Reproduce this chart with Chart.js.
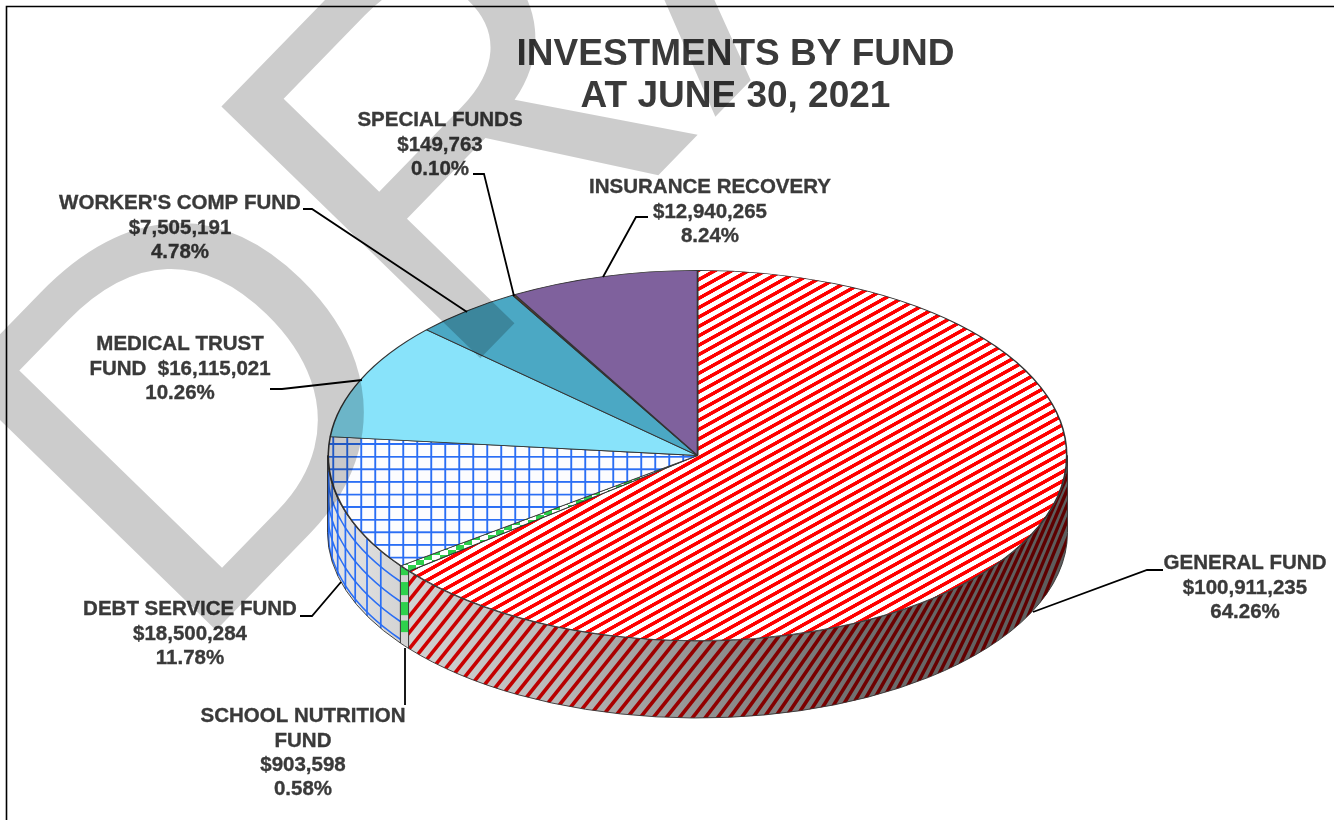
<!DOCTYPE html>
<html><head><meta charset="utf-8">
<style>html,body{margin:0;padding:0;background:#fff}canvas{display:block}</style>
<script src="https://cdn.jsdelivr.net/npm/chart.js@4"></script>
</head><body><canvas id="c" width="1334" height="820"></canvas>
<script>
// ---------- data ----------
const categories = ["GENERAL FUND","SCHOOL NUTRITION FUND","DEBT SERVICE FUND","MEDICAL TRUST FUND","WORKER'S COMP FUND","SPECIAL FUNDS","INSURANCE RECOVERY"];
const values = [100911235,903598,18500284,16115021,7505191,149763,12940265];
const percents = ["64.26%","0.58%","11.78%","10.26%","4.78%","0.10%","8.24%"];
const titleLines = ["INVESTMENTS BY FUND","AT JUNE 30, 2021"];
const watermark = "DRAFT";
const money = v => "$" + v.toLocaleString("en-US");
const labelLines = [
  ["GENERAL FUND", money(values[0]), percents[0]],
  ["SCHOOL NUTRITION","FUND", money(values[1]), percents[1]],
  ["DEBT SERVICE FUND", money(values[2]), percents[2]],
  ["MEDICAL TRUST","FUND  "+money(values[3]), percents[3]],
  ["WORKER'S COMP FUND", money(values[4]), percents[4]],
  ["SPECIAL FUNDS", money(values[5]), percents[5]],
  ["INSURANCE RECOVERY", money(values[6]), percents[6]]
];
// ---------- layout and style ----------
const labelPos = [[1245,563.5],[303,716.5],[190,609.5],[180,344.5],[180,203.5],[440,120.5],[710,187.5]];
const leaders = [
  [[1163,570],[1147,570],[1033,612]],
  [[405,705],[405,648]],
  [[300,616],[312,616],[341,582]],
  [[270,389],[282,389],[362,380]],
  [[303,209],[312,209],[467,312]],
  [[473,174],[484,174],[514,296]],
  [[648,217],[636,217],[603,277]]
];
const face = {cx:697.5, cy:455.5, rx:370, ry:185.5, depth:77};
const FONT = '"Liberation Sans", Arial, sans-serif';

function tile(w,h,draw){const t=document.createElement('canvas');t.width=w;t.height=h;draw(t.getContext('2d'));return t;}
const c=document.getElementById('c'), cx2d=c.getContext('2d');
const redPat=cx2d.createPattern(tile(4,16,g=>{g.fillStyle='#fff';g.fillRect(0,0,4,16);g.fillStyle='#ff0000';g.fillRect(0,0,4,7);}),'repeat');
const gridPat=cx2d.createPattern(tile(28,25,g=>{g.fillStyle='#fcfcfe';g.fillRect(0,0,28,25);g.fillStyle='#2a6ef5';g.fillRect(0,0,28,3.6);g.fillRect(0,0,3.6,25);}),'repeat');
const checkPat=cx2d.createPattern(tile(16,10,g=>{g.fillStyle='#fff';g.fillRect(0,0,16,10);g.fillStyle='#2ed14c';g.fillRect(0,0,8,5);g.fillRect(8,5,8,5);}),'repeat');
const colors=[redPat,checkPat,gridPat,'#88e3fa','#4ba8c4','#8a4b14','#7f619d'];

const pie3d={
  id:'pie3d',
  beforeDraw(chart){const g=chart.ctx;g.save();g.fillStyle='#fff';g.fillRect(0,0,chart.width,chart.height);g.restore();},
  afterLayout(chart){
    const a=chart.chartArea, ux=(a.left+a.right)/2, uy=(a.top+a.bottom)/2;
    const r=Math.min(a.right-a.left,a.bottom-a.top)/2;
    const sx=face.rx/r, sy=face.ry/r;
    chart.$face={ux,uy,sx,sy};
    const ctm=new DOMMatrix().translate(face.cx,face.cy).scale(sx,sy).translate(-ux,-uy);
    const inv=ctm.inverse();
    redPat.setTransform(inv.multiply(new DOMMatrix().translate(700,455).rotate(-29).scale(1,8.2/16)));
    gridPat.setTransform(inv.multiply(new DOMMatrix().translate(332.4,455.8).scale(.5,12.6/25)));
    checkPat.setTransform(inv.multiply(new DOMMatrix().translate(400,560).scale(1,1)));
    if(chart.titleBlock){chart.titleBlock.left=435.5;chart.titleBlock.right=1035.5;}
  },
  beforeDatasetsDraw(chart){
    const g=chart.ctx, arcs=chart.getDatasetMeta(0).data;
    const {cx,cy,rx,ry,depth}=face;
    const shade=g.createLinearGradient(cx-rx,0,cx+rx,0);
    [[0,'#e6e6e6'],[.11,'#d2d2d2'],[.31,'#b8b8b8'],[.5,'#939393'],[.7,'#727272'],[.84,'#646464'],[1,'#5c5c5c']].forEach(s=>shade.addColorStop(s[0],s[1]));
    const rimPath=(p0,p1)=>{g.beginPath();g.ellipse(cx,cy,rx,ry,0,p0,p1);g.ellipse(cx,cy+depth,rx,ry,0,p1,p0,true);g.closePath();};
    arcs.forEach((arc,i)=>{
      const p0=Math.max(arc.startAngle,0), p1=Math.min(arc.endAngle,Math.PI);
      if(p1<=p0) return;
      g.save();
      rimPath(p0,p1);g.fillStyle=shade;g.fill();g.clip();
      if(i===0){
        // diagonal stripes, tightening toward the far right
        g.globalCompositeOperation='multiply';g.fillStyle='#ff0000';
        let x=330;
        while(x<1160){
          const u=Math.min(1,Math.max(0,(x-700)/370));
          const sp=13-3*u, m=.8-.4*u, w=sp*.36;
          const ym=680-160*u*u;
          const ext=220;
          g.beginPath();g.moveTo(x+ext*m,ym-ext);g.lineTo(x+w+ext*m,ym-ext);g.lineTo(x+w-ext*m,ym+ext);g.lineTo(x-ext*m,ym+ext);g.closePath();g.fill();
          x+=sp;
        }
      } else if(i===1){
        g.fillStyle='#2ed14c';
        [[.02,.17],[.26,.43],[.52,.69],[.76,.91]].forEach(b=>{g.fillRect(cx+rx*Math.cos(p1),cy+ry*Math.sin(p1)+depth*b[0]-4,Math.abs(rx*(Math.cos(p0)-Math.cos(p1))),depth*(b[1]-b[0]));});
      } else if(i===2){
        g.strokeStyle='#2a6ef5';g.lineWidth=1.7;
        for(let p=p0+.095;p<Math.PI;p+=.077){g.beginPath();g.moveTo(cx+rx*Math.cos(p),cy+ry*Math.sin(p));g.lineTo(cx+rx*Math.cos(p),cy+ry*Math.sin(p)+depth);g.stroke();}
        [.2,.46,.72,.95].forEach(t=>{g.beginPath();g.ellipse(cx,cy+depth*t,rx,ry,0,p0,p1);g.stroke();});
      }
      g.restore();
      g.save();rimPath(p0,p1);g.strokeStyle='#333';g.lineWidth=.9;g.stroke();g.restore();
    });
    const f=chart.$face;
    g.save();
    g.translate(cx,cy);g.scale(f.sx,f.sy);g.translate(-f.ux,-f.uy);
  },
  afterDatasetsDraw(chart){chart.ctx.restore();},
  afterDraw(chart){
    const g=chart.ctx;
    g.save();
    g.strokeStyle='#000';g.lineWidth=1.6;g.beginPath();g.moveTo(6.5,820);g.lineTo(6.5,6.5);g.lineTo(1334,6.5);g.stroke();
    g.strokeStyle='#000';g.lineWidth=1.8;
    leaders.forEach(l=>{g.beginPath();l.forEach((p,i)=>i?g.lineTo(p[0],p[1]):g.moveTo(p[0],p[1]));g.stroke();});
    g.fillStyle='#3a3a3a';g.strokeStyle='#3a3a3a';g.lineWidth=.35;g.font='bold 20.5px '+FONT;g.textAlign='center';g.textBaseline='middle';
    labelLines.forEach((ls,i)=>ls.forEach((t,j)=>{const y=labelPos[i][1]+j*24.4;g.fillText(t,labelPos[i][0],y);g.strokeText(t,labelPos[i][0],y);}));
    g.translate(186,661);g.rotate(-45.8*Math.PI/180);
    g.fillStyle='rgba(0,0,0,0.2)';g.font='525px '+FONT;g.textAlign='left';g.textBaseline='alphabetic';
    g.fillText(watermark,0,0);
    g.restore();
  }
};

new Chart(c,{
  type:'pie',
  data:{labels:categories,datasets:[{data:values,backgroundColor:colors,borderColor:'#333',borderWidth:.8,clip:false}]},
  options:{
    responsive:false,animation:false,events:[],
    layout:{padding:{left:482,right:482,top:0,bottom:0}},
    plugins:{
      legend:{display:false},tooltip:{enabled:false},
      title:{display:true,text:titleLines,color:'#3a3a3a',font:{family:FONT,size:37,weight:'bold',lineHeight:1.135},padding:{top:34,bottom:0}}
    }
  },
  plugins:[pie3d]
});
</script></body></html>
